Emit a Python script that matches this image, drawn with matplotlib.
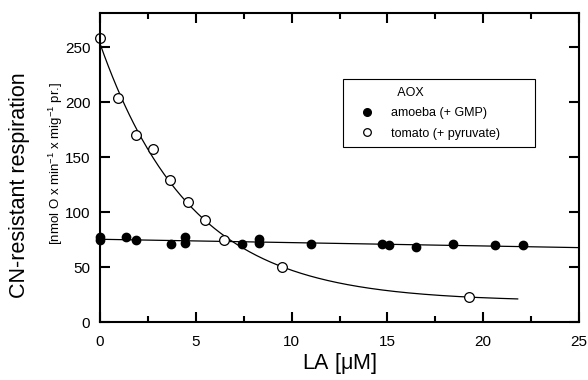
import numpy as np
import matplotlib.pyplot as plt
from matplotlib.lines import Line2D

plt.rcParams['font.family'] = ['Liberation Sans', 'DejaVu Sans']
plt.rcParams['mathtext.fontset'] = 'custom'
plt.rcParams['mathtext.rm'] = 'Liberation Sans'
plt.rcParams['mathtext.default'] = 'regular'

# amoeba (+ GMP), filled circles
amoeba_la = [0, 0, 1.38, 1.9, 3.7, 4.43, 4.43, 7.4, 8.28, 8.28, 11.03, 14.74, 15.1, 16.5, 18.4, 20.6, 22.07]
amoeba_resp = [77.5, 74.5, 77, 74.5, 71, 77.5, 71.5, 70.6, 75.5, 71.5, 70.6, 70.6, 70, 68, 70.6, 70, 70]

# tomato (+ pyruvate), open circles
tomato_la = [0, 0.95, 1.86, 2.78, 3.67, 4.6, 5.5, 6.47, 9.5, 19.26]
tomato_resp = [258, 204, 170, 157, 129, 109, 93, 75, 50, 22.7]

x_ticks = [0, 5, 10, 15, 20, 25]
y_ticks = [0, 50, 100, 150, 200, 250]

# fitted lines: linear for amoeba, single exponential decay for tomato
ax_, ay_ = np.array(amoeba_la), np.array(amoeba_resp)
slope, intercept = np.polyfit(ax_, ay_, 1)

tx, ty = np.array(tomato_la), np.array(tomato_resp)
best = None
for k in np.linspace(0.05, 0.6, 1101):
    A = np.column_stack([np.exp(-k * tx), np.ones_like(tx)])
    coef, res, _, _ = np.linalg.lstsq(A, ty, rcond=None)
    err = np.sum((A @ coef - ty) ** 2)
    if best is None or err < best[0]:
        best = (err, k, coef)
_, k_fit, (a_fit, c_fit) = best

fig = plt.figure(figsize=(5.88, 3.80), dpi=100)
ax = fig.add_axes([100/588, 1-322/380, 479/588, 309/380])

xl = np.linspace(0, 25, 200)
ax.plot(xl, slope * xl + intercept, color='black', lw=0.9)
xe = np.linspace(0, 21.8, 300)
ax.plot(xe, a_fit * np.exp(-k_fit * xe) + c_fit, color='black', lw=0.9)

ax.plot(amoeba_la, amoeba_resp, 'o', color='black', ms=6, clip_on=False)
ax.plot(tomato_la, tomato_resp, 'o', mfc='white', mec='black', mew=0.9, ms=7, clip_on=False)

ax.set_xlim(0, 25)
ax.set_ylim(0, 281)
ax.set_xticks(x_ticks)
ax.set_xticks([2.5, 7.5, 12.5, 17.5, 22.5], minor=True)
ax.set_yticks(y_ticks)
ax.tick_params(which='both', direction='in', top=True, right=True, width=1.5, labelsize=11)
ax.tick_params(which='major', length=7)
ax.tick_params(which='minor', length=4.5)
ax.tick_params(axis='y', pad=7)
ax.tick_params(axis='x', pad=9)
for s in ax.spines.values():
    s.set_linewidth(1.5)

ax.set_xlabel(r'LA [$\mu$M]', fontsize=15.5, labelpad=2)
fig.text(20/588, 1-185/380, 'CN-resistant respiration', rotation=90,
         ha='center', va='center', fontsize=15.5)
fig.text(56/588, 1-163/380, r'[nmol O x min$^{-1}$ x mig$^{-1}$ pr.]', rotation=90,
         ha='center', va='center', fontsize=9.5)

handles = [
    Line2D([], [], linestyle='none'),
    Line2D([], [], marker='o', linestyle='none', color='black', ms=5.5),
    Line2D([], [], marker='o', linestyle='none', mfc='white', mec='black', mew=0.9, ms=5.5),
]
labels = ['  AOX', 'amoeba (+ GMP)', 'tomato (+ pyruvate)']
leg = ax.legend(handles, labels, loc='upper left', mode='expand',
                bbox_to_anchor=(343/588, 1-148/380, 192/588, 69/380),
                bbox_transform=fig.transFigure,
                borderaxespad=0, fontsize=9, fancybox=False, framealpha=1,
                edgecolor='black', borderpad=0.6, labelspacing=0.68,
                handlelength=2.64, handletextpad=0.6)
leg.get_frame().set_linewidth(0.8)

fig.savefig('out.png', dpi=100)
